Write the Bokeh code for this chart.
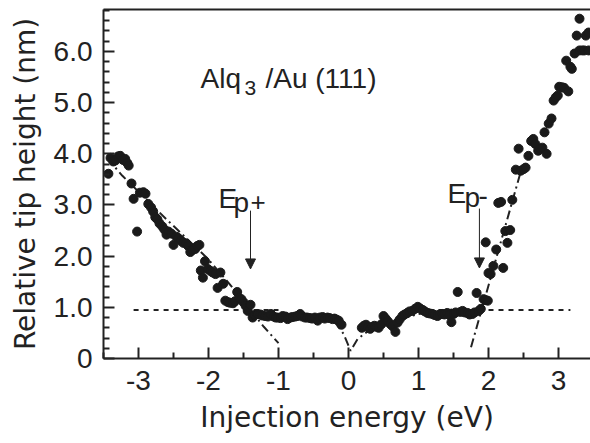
from bokeh.plotting import figure
from bokeh.models import FixedTicker, Label, Arrow, NormalHead, LinearAxis, ColumnDataSource
from bokeh.embed import file_html
from bokeh.resources import INLINE

# ---------------- data ----------------
energy = [
    -3.43, -3.40, -3.36, -3.33, -3.29, -3.26, -3.22, -3.19, -3.16, -3.14, -3.10, -3.07, -3.02,
    -2.98, -2.93, -2.90, -2.86, -2.82, -2.79, -2.76, -2.73, -2.70, -2.66, -2.63, -2.60, -2.57,
    -2.53, -2.50, -2.46, -2.43, -2.39, -2.36, -2.32, -2.29, -2.26, -2.23, -2.19, -2.16, -2.13,
    -2.11, -2.08, -2.05, -2.01, -1.97, -1.94, -1.90, -1.87, -1.83, -1.79, -1.76, -1.72, -1.69,
    -1.65, -1.62, -1.59, -1.56, -1.53, -1.50, -1.47, -1.44, -1.40, -1.37, -1.34, -1.30, -1.26,
    -1.23, -1.19, -1.15, -1.11, -1.07, -1.04, -1.01, -0.97, -0.94, -0.90, -0.87, -0.83, -0.80,
    -0.76, -0.73, -0.69, -0.66, -0.62, -0.59, -0.55, -0.52, -0.48, -0.44, -0.41, -0.37, -0.34,
    -0.30, -0.27, -0.23, -0.20, -0.17, -0.14, -0.10,
    0.19, 0.22, 0.25, 0.28, 0.31, 0.34, 0.37, 0.40, 0.43, 0.47, 0.50, 0.53, 0.56, 0.60, 0.63,
    0.67, 0.70, 0.73, 0.77, 0.80, 0.84, 0.87, 0.91, 0.95, 0.99, 1.02, 1.06, 1.09, 1.13, 1.16,
    1.20, 1.23, 1.27, 1.30, 1.34, 1.37, 1.41, 1.44, 1.47, 1.50, 1.53, 1.56, 1.60, 1.63, 1.66,
    1.70, 1.73, 1.77, 1.80, 1.83, 1.86, 1.89, 1.93, 1.96, 1.99,
    1.96, 2.00, 2.03, 2.07, 2.11, 2.14, 2.18, 2.21, 2.24, 2.27, 2.31, 2.34, 2.39, 2.43, 2.46,
    2.50, 2.53, 2.57, 2.61, 2.64, 2.67, 2.71, 2.74, 2.77, 2.80, 2.83, 2.86, 2.90, 2.93, 2.96,
    2.99, 3.01, 3.05, 3.08, 3.11, 3.14, 3.17, 3.19, 3.23, 3.26, 3.30, 3.30, 3.34, 3.37, 3.39,
    3.43, 3.43,
]
tip_height = [
    3.61, 3.92, 3.85, 3.87, 3.95, 3.96, 3.88, 3.90, 3.82, 3.77, 3.42, 3.12, 2.48,
    3.24, 3.25, 3.22, 3.02, 2.95, 2.87, 2.76, 2.72, 2.64, 2.58, 2.52, 2.42, 2.48,
    2.44, 2.22, 2.38, 2.35, 2.30, 2.26, 2.25, 2.20, 2.08, 2.12, 2.14, 2.20, 2.22,
    1.72, 1.58, 1.90, 1.75, 1.71, 1.68, 1.65, 1.38, 1.68, 1.46, 1.13, 1.10, 1.09,
    1.08, 1.12, 1.30, 1.18, 1.16, 1.10, 1.03, 0.93, 1.05, 0.80, 0.85, 0.87, 0.86,
    0.84, 0.83, 0.82, 0.87, 0.82, 0.80, 0.80, 0.79, 0.83, 0.82, 0.77, 0.80, 0.81,
    0.82, 0.83, 0.87, 0.82, 0.80, 0.80, 0.79, 0.78, 0.80, 0.74, 0.80, 0.81, 0.78,
    0.80, 0.79, 0.77, 0.78, 0.76, 0.74, 0.66,
    0.60, 0.64, 0.66, 0.61, 0.58, 0.62, 0.64, 0.62, 0.60, 0.67, 0.83, 0.78, 0.73, 0.67, 0.63,
    0.52, 0.70, 0.76, 0.83, 0.86, 0.89, 0.92, 0.93, 0.97, 1.01, 0.98, 0.95, 0.92, 0.89, 0.88,
    0.87, 0.85, 0.83, 0.86, 0.87, 0.86, 0.89, 0.85, 0.71, 0.87, 0.90, 1.30, 0.91, 0.93, 0.90,
    0.89, 0.86, 0.87, 0.90, 1.28, 0.93, 0.97, 1.16, 1.14, 1.13,
    2.27, 1.67, 1.65, 1.81, 2.13, 3.04, 3.06, 1.77, 2.49, 2.26, 2.51, 3.10, 3.69, 4.10, 3.67,
    3.70, 3.73, 3.96, 4.25, 4.29, 4.19, 4.06, 4.10, 4.12, 4.42, 4.00, 4.59, 4.69, 5.04, 5.10,
    5.14, 5.31, 5.30, 5.29, 5.82, 5.22, 5.70, 5.66, 5.96, 6.31, 6.64, 6.02, 6.02, 6.02, 6.31,
    6.37, 6.02,
]

# guide lines (dotted plateau level, dash-dot onsets)
plateau_left_x = [-3.07, -1.0]
plateau_left_y = [0.95, 0.95]
plateau_right_x = [1.0, 3.17]
plateau_right_y = [0.95, 0.95]
onset_pos_x = [-3.45, -3.23, -2.60, -2.01, -1.64, -1.21, -1.00]
onset_pos_y = [3.92, 3.57, 2.72, 1.95, 1.36, 0.62, 0.30]
gap_x = [-0.20, -0.07, 0.03, 0.13, 0.30, 0.60, 1.00, 1.50]
gap_y = [0.72, 0.48, 0.15, 0.38, 0.56, 0.72, 0.87, 0.96]
onset_neg_x = [1.75, 2.45]
onset_neg_y = [0.22, 3.60]

x_ticks = [-3, -2, -1, 0, 1, 2, 3]
x_tick_labels = ["-3", "-2", "-1", "0", "1", "2", "3"]
x_minor = [-3.5, -2.5, -1.5, -0.5, 0.5, 1.5, 2.5]
y_ticks = [0, 1, 2, 3, 4, 5, 6]
y_tick_labels = ["0", "1.0", "2.0", "3.0", "4.0", "5.0", "6.0"]
y_minor = [round(0.2 * i, 1) for i in range(35) if i % 5 != 0]

INK = "#222222"
FONT = "Liberation Sans"
LABEL_FONT = "DejaVu Sans"
X0, X1 = -3.5, 3.457
Y0, Y1 = 0.0, 6.82

p = figure(width=590, height=443, x_range=(X0, X1), y_range=(Y0, Y1),
           output_backend="svg", toolbar_location=None,
           min_border_left=103, min_border_right=0, min_border_top=9, min_border_bottom=85)
p.xgrid.visible = False
p.ygrid.visible = False
p.outline_line_color = None
p.background_fill_color = "white"
p.border_fill_color = "white"

bottom_axis = p.below[0]
left_axis = p.left[0]

for ax, ticks, labels, minor in ((bottom_axis, x_ticks, x_tick_labels, x_minor),
                                 (left_axis, y_ticks, y_tick_labels, y_minor)):
    ax.ticker = FixedTicker(ticks=ticks, minor_ticks=minor)
    ax.major_label_overrides = {t: l for t, l in zip(ticks, labels)}
    ax.axis_line_color = INK
    ax.axis_line_width = 2
    ax.major_tick_line_color = INK
    ax.major_tick_line_width = 2
    ax.minor_tick_line_color = INK
    ax.minor_tick_line_width = 2
    ax.major_tick_in = 11
    ax.major_tick_out = 0
    ax.minor_tick_in = 6
    ax.minor_tick_out = 0
    ax.major_label_text_font = FONT
    ax.major_label_text_font_size = "28px"
    ax.major_label_text_color = INK
    ax.axis_label_text_font = LABEL_FONT
    ax.axis_label_text_font_size = "28px"
    ax.axis_label_text_font_style = "normal"
    ax.axis_label_text_color = INK

bottom_axis.axis_label = "Injection energy (eV)"
left_axis.axis_label = "Relative tip height (nm)"
bottom_axis.major_label_standoff = 12
left_axis.major_label_standoff = 11
bottom_axis.axis_label_standoff = 8
left_axis.axis_label_standoff = 9

# top frame line (axis line only, no ticks or labels)
top = LinearAxis(ticker=FixedTicker(ticks=[]), axis_line_color=INK, axis_line_width=2,
                 major_tick_line_color=None, minor_tick_line_color=None,
                 major_tick_in=0, major_tick_out=0, minor_tick_in=0, minor_tick_out=0,
                 major_label_text_font_size="0px", major_label_standoff=0)
p.add_layout(top, "above")

# guide lines
p.line(plateau_left_x, plateau_left_y, line_color=INK, line_width=2, line_dash="5 5")
p.line(plateau_right_x, plateau_right_y, line_color=INK, line_width=2, line_dash="5 5")
for gx, gy in ((onset_pos_x, onset_pos_y), (gap_x, gap_y), (onset_neg_x, onset_neg_y)):
    p.line(gx, gy, line_color=INK, line_width=2, line_dash="9 4 2 4")

src = ColumnDataSource(dict(x=energy, y=tip_height))
p.scatter("x", "y", source=src, size=9, fill_color="#1a1a1a", line_color="#1a1a1a")

# annotations
def lab(x, y, text, size):
    p.add_layout(Label(x=x, y=y, text=text,
                       text_font=FONT, text_font_size=size, text_color=INK,
                       text_baseline="alphabetic", text_align="left"))

lab(-2.114, 5.472, "Alq", "28px")
lab(-1.486, 5.277, "3", "21px")
lab(-1.186, 5.472, "/Au (111)", "28px")

lab(-1.857, 3.127, "E", "28px")
lab(-1.643, 3.049, "p", "28px")
lab(-1.40, 3.068, "+", "26px")

lab(1.414, 3.224, "E", "28px")
lab(1.657, 3.146, "p", "28px")
lab(1.857, 3.185, "-", "28px")

for ax_x, y_s, y_e in ((-1.4, 2.89, 1.75), (1.87, 2.93, 1.77)):
    p.add_layout(Arrow(x_start=ax_x, y_start=y_s, x_end=ax_x, y_end=y_e,
                       line_color=INK, line_width=1,
                       end=NormalHead(size=10, fill_color=INK, line_color=INK, line_width=1)))

open("out.html", "w").write(file_html(p, INLINE))
